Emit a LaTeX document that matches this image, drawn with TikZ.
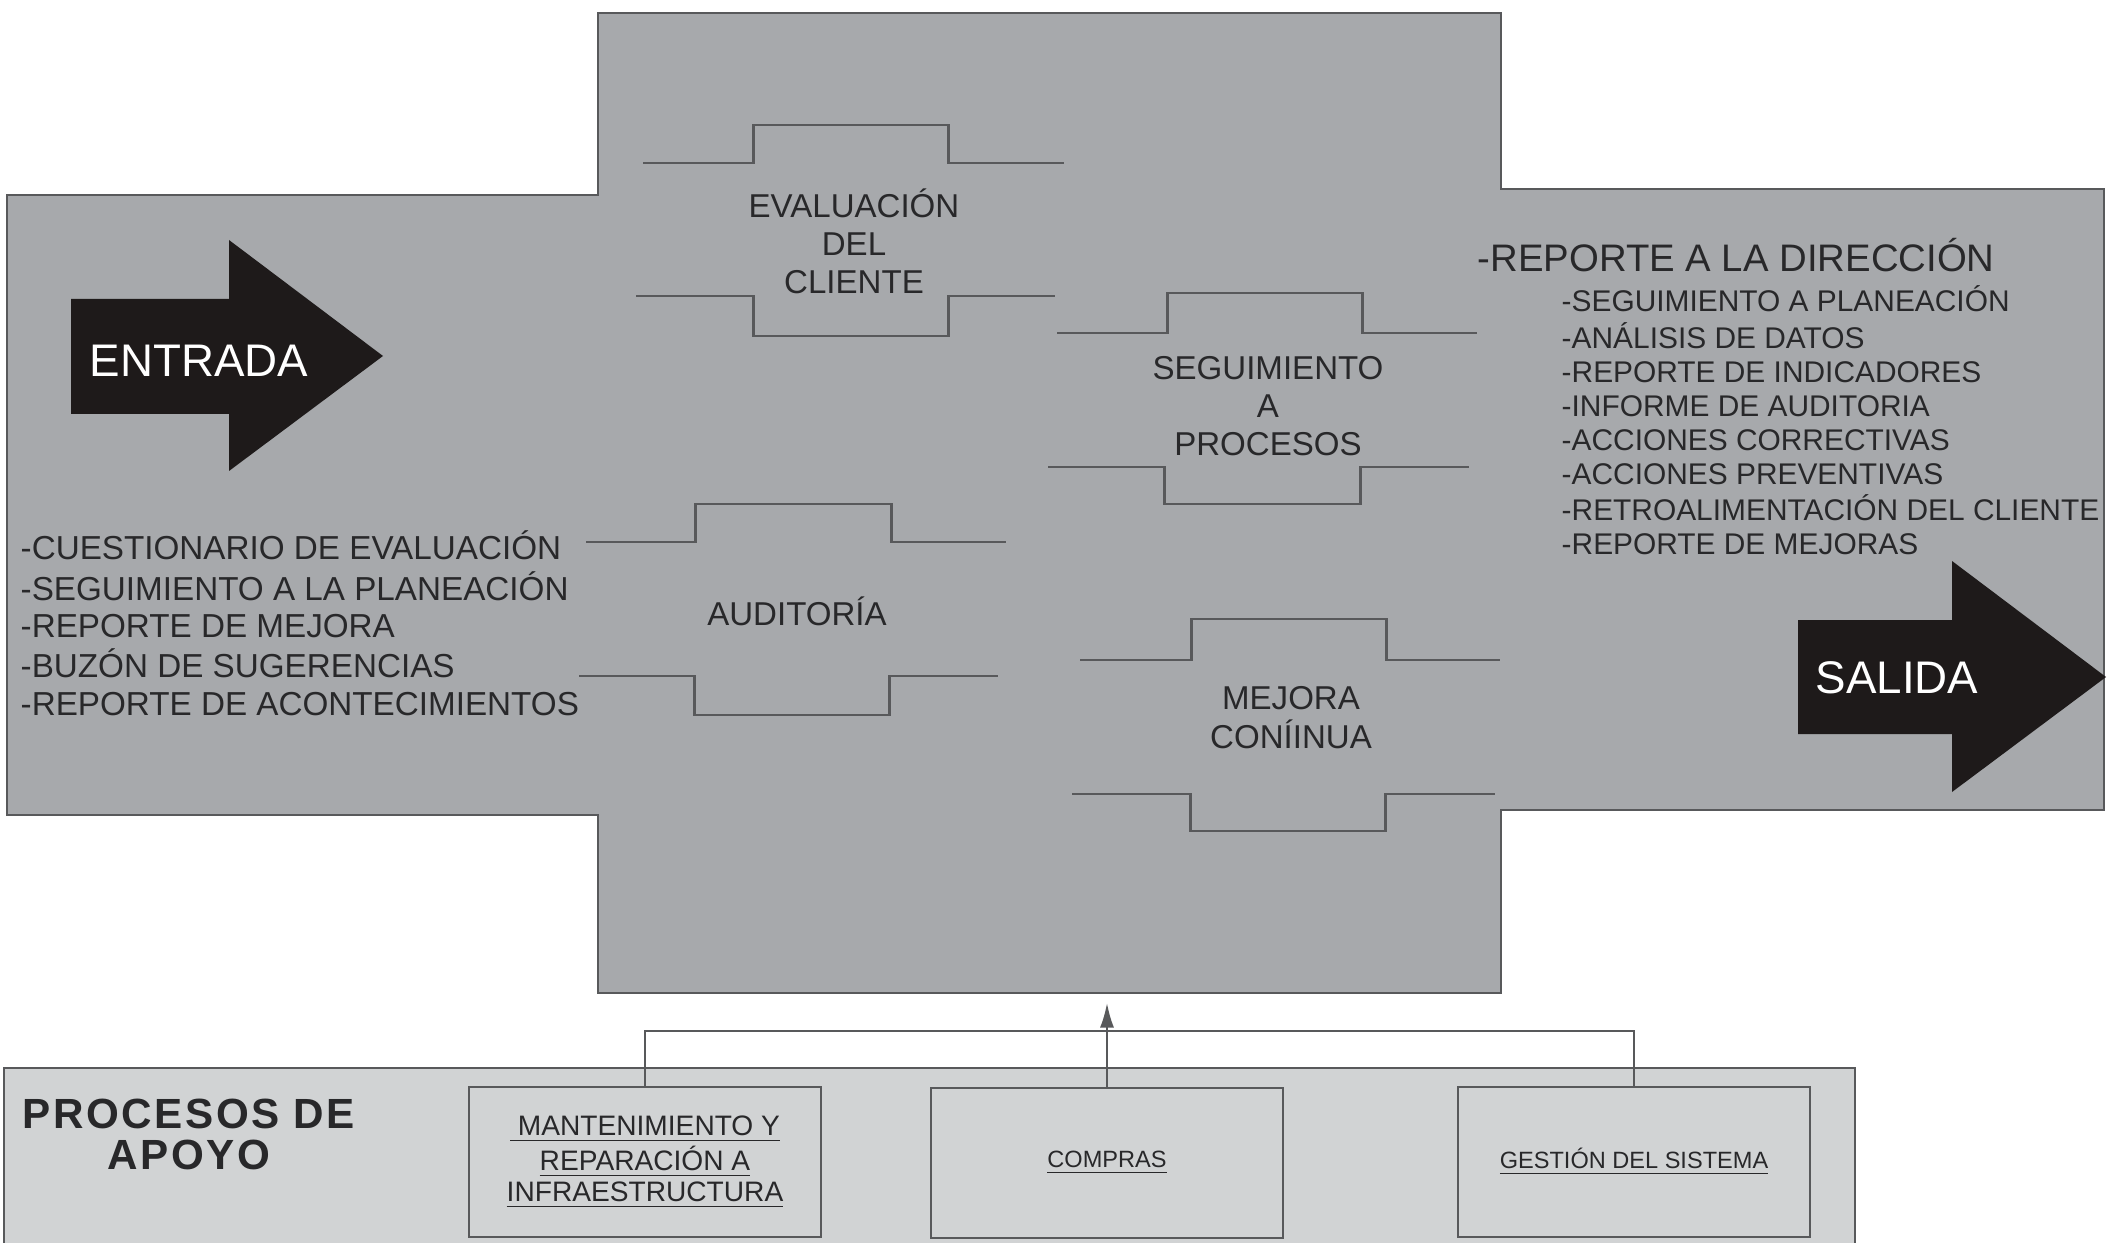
\documentclass[tikz,border=0pt]{standalone}
\usepackage{fontspec}
\setmainfont{Liberation Sans}
\newfontfamily\spacedsans[LetterSpace=6]{Liberation Sans}
\usetikzlibrary{arrows.meta}

\definecolor{panelgray}{RGB}{167,169,172}
\definecolor{supportgray}{RGB}{209,211,212}
\definecolor{edgegray}{RGB}{88,89,91}
\definecolor{inkgray}{RGB}{40,40,42}
\definecolor{arrowblack}{RGB}{30,26,26}

\begin{document}
\begin{tikzpicture}[x=0.01cm,y=-0.01cm,
  panel/.style={fill=panelgray,draw=edgegray,line width=0.7pt},
  support/.style={fill=supportgray},
  stepline/.style={draw=edgegray,line width=0.85pt},
  bigarrow/.style={fill=arrowblack},
  arrowlabel/.style={inner sep=0,anchor=base west,text=white,font=\fontsize{13}{15}\selectfont},
  proclabel/.style={inner sep=0,anchor=base,text=inkgray,font=\fontsize{9.4}{10.67}\selectfont},
  listtext/.style={inner sep=0,anchor=base west,text=inkgray},
  supbox/.style={draw=edgegray,line width=0.6pt,fill=supportgray,minimum width=3.52cm,minimum height=1.5cm,inner sep=0,align=center,text=inkgray},
  link/.style={draw=edgegray,line width=0.6pt}]
\useasboundingbox (0,0) rectangle (2112,1243);
\fill[white] (0,0) rectangle (2112,1243);

% cross-shaped process area: input band, core, output band
\path[panel] (598,13) -- (1501,13) -- (1501,189) -- (2104,189) -- (2104,810)
  -- (1501,810) -- (1501,993) -- (598,993) -- (598,815) -- (7,815)
  -- (7,195) -- (598,195) -- cycle;

% input and output arrows
\fill[bigarrow] (71,299) -- (229,299) -- (229,240) -- (383,356) -- (229,471)
  -- (229,414) -- (71,414) -- cycle;
\fill[bigarrow] (1798,620) -- (1952,620) -- (1952,561) -- (2106,677) -- (1952,792)
  -- (1952,734) -- (1798,734) -- cycle;
\node[arrowlabel] (entrada) at (89,377) {ENTRADA};
\node[arrowlabel] (salida) at (1815,693) {SALIDA};

% step outlines of the four processes
\draw[stepline] (643,163) -- (753,163) -- (753,125) -- (948,125) -- (948,163) -- (1064,163);
\draw[stepline] (636,296) -- (753,296) -- (753,336) -- (948,336) -- (948,296) -- (1055,296);
\draw[stepline] (1057,333) -- (1167,333) -- (1167,293) -- (1362,293) -- (1362,333) -- (1477,333);
\draw[stepline] (1048,467) -- (1164,467) -- (1164,504) -- (1360,504) -- (1360,467) -- (1469,467);
\draw[stepline] (586,542) -- (695,542) -- (695,504) -- (891,504) -- (891,542) -- (1006,542);
\draw[stepline] (579,676) -- (694,676) -- (694,715) -- (889,715) -- (889,676) -- (998,676);
\draw[stepline] (1080,660) -- (1191,660) -- (1191,619) -- (1386,619) -- (1386,660) -- (1500,660);
\draw[stepline] (1072,794) -- (1190,794) -- (1190,831) -- (1385,831) -- (1385,794) -- (1495,794);

% process names
\node[proclabel] (evaluacion) at (854,218)
  {\begin{tabular}[t]{@{}c@{}}EVALUACIÓN\\DEL\\CLIENTE\end{tabular}};
\node[proclabel] (seguimiento) at (1268,380)
  {\begin{tabular}[t]{@{}c@{}}SEGUIMIENTO\\A\\PROCESOS\end{tabular}};
\node[proclabel] (auditoria) at (797,625) {AUDITORÍA};
\node[proclabel] (mejora) at (1291,709)
  {\begin{tabular}[t]{@{}c@{}}MEJORA\\CONÍINUA\end{tabular}};

% inputs
\node[listtext,font=\fontsize{9.45}{10.67}\selectfont] (inputs) at (20,560)
  {\begin{tabular}[t]{@{}l@{}}-CUESTIONARIO DE EVALUACIÓN\\-SEGUIMIENTO A LA PLANEACIÓN\\
   -REPORTE DE MEJORA\\-BUZÓN DE SUGERENCIAS\\-REPORTE DE ACONTECIMIENTOS\end{tabular}};

% outputs
\node[listtext,font=\fontsize{10.9}{12}\selectfont] (reporte) at (1477,272) {-REPORTE A LA DIRECCIÓN};
\node[listtext,font=\fontsize{8.5}{9.67}\selectfont] (outputs) at (1561,312)
  {\begin{tabular}[t]{@{}l@{}}-SEGUIMIENTO A PLANEACIÓN\\-ANÁLISIS DE DATOS\\
   -REPORTE DE INDICADORES\\-INFORME DE AUDITORIA\\-ACCIONES CORRECTIVAS\\
   -ACCIONES PREVENTIVAS\\-RETROALIMENTACIÓN DEL CLIENTE\\-REPORTE DE MEJORAS\end{tabular}};

% support processes band
\fill[support] (4,1068) rectangle (1855,1243);
\draw[link] (4,1243) -- (4,1068) -- (1855,1068) -- (1855,1243);
\node[inner sep=0,anchor=base,text=inkgray,font=\spacedsans\bfseries\fontsize{12}{11.1}\selectfont]
  (apoyo) at (189,1128) {\begin{tabular}[t]{@{}c@{}}PROCESOS DE\\APOYO\end{tabular}};

\node[supbox,font=\fontsize{8}{8.8}\selectfont] (mant) at (645,1162)
  {\underline{\ MANTENIMIENTO Y}\\\underline{REPARACIÓN A}\\\underline{INFRAESTRUCTURA}};
\node[supbox,font=\fontsize{6.7}{8}\selectfont] (compras) at (1107,1163) {\underline{COMPRAS}};
\node[supbox,font=\fontsize{6.7}{8}\selectfont] (gestion) at (1634,1162) {\underline{GESTIÓN DEL SISTEMA}};

% support processes feed the core
\coordinate (bus) at (1107,1031);
\coordinate (core) at (1107,1003);
\draw[link] (mant.north) |- (bus) -| (gestion.north);
\draw[link,-{Latex[length=7pt,width=4pt]}] (compras.north) -- (core);
\end{tikzpicture}
\end{document}
